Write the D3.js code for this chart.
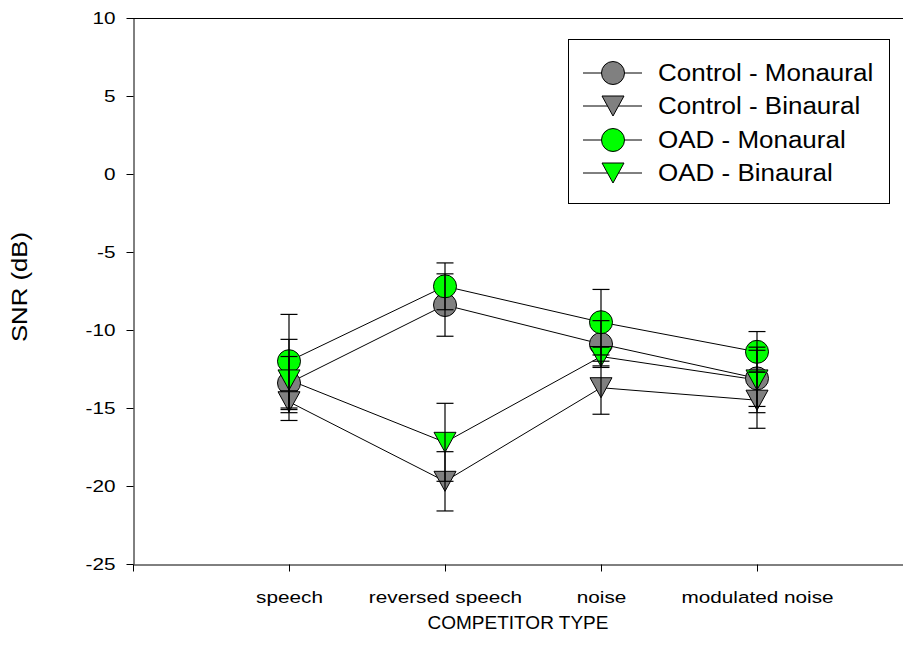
<!DOCTYPE html>
<html>
<head>
<meta charset="utf-8">
<script src="https://cdn.jsdelivr.net/npm/d3@7"></script>
<style>
  html, body { margin: 0; padding: 0; background: #fff; }
  svg { display: block; font-family: "Liberation Sans", Arial, sans-serif; }
</style>
</head>
<body>
<svg id="chart" width="903" height="654"></svg>
<script>
// Competitor types along the x axis
const categories = ["speech", "reversed speech", "noise", "modulated noise"];
const yTicks = [-25, -20, -15, -10, -5, 0, 5, 10];

// Mean SNR (dB) and error per competitor type
const controlMonaural    = [-13.4, -8.4, -10.9, -13.1];
const controlMonauralErr = [1.7, 2.0, 1.5, 1.8];
const controlBinaural    = [-14.6, -19.7, -13.7, -14.5];
const controlBinauralErr = [0.7, 1.9, 1.7, 1.8];
const oadMonaural        = [-12.0, -7.2, -9.5, -11.4];
const oadMonauralErr     = [3.0, 1.5, 2.1, 1.3];
const oadBinaural        = [-13.2, -17.2, -11.7, -13.2];
const oadBinauralErr     = [2.6, 2.5, 0.6, 2.1];

const series = [
  { name: "Control - Monaural", values: controlMonaural, err: controlMonauralErr, shape: "circle",   fill: "#808080" },
  { name: "Control - Binaural", values: controlBinaural, err: controlBinauralErr, shape: "triangle", fill: "#808080" },
  { name: "OAD - Monaural",     values: oadMonaural,     err: oadMonauralErr,     shape: "circle",   fill: "#00ff00" },
  { name: "OAD - Binaural",     values: oadBinaural,     err: oadBinauralErr,     shape: "triangle", fill: "#00ff00" }
];

const svg = d3.select("#chart");
const plotLeft = 133, plotRight = 913, plotTop = 18, plotBottom = 564;
const FONT = "Liberation Sans, Arial, sans-serif";
const STRETCH = 1.22; // tick text is set slightly wide along its baseline

const x = d3.scaleLinear().domain([0, categories.length + 1]).range([plotLeft, plotRight]);
const y = d3.scaleLinear().domain([-25, 10]).range([plotBottom, plotTop]);

// Frame (top and right edges)
svg.append("path")
  .attr("d", `M${plotLeft},${plotTop + 0.5}H${plotRight}V${plotBottom}`)
  .attr("fill", "none").attr("stroke", "#000").attr("stroke-width", 1);

// Widen a text element along its baseline, keeping its anchor point fixed
function widen(sel, k) {
  sel.each(function () {
    const t = d3.select(this);
    const tx = +t.attr("x") || 0;
    t.attr("x", tx / k).attr("transform", `scale(${k},1)`);
  });
}

// Y axis
const yAxis = svg.append("g")
  .attr("transform", `translate(${plotLeft + 0.5},0)`)
  .call(d3.axisLeft(y).tickValues(yTicks).tickFormat(d => String(d))
    .tickSize(7).tickSizeOuter(0).tickPadding(11));
yAxis.selectAll("text").attr("font-size", 17).attr("fill", "#000").attr("font-family", FONT)
  .call(widen, STRETCH);
yAxis.selectAll("line, path").attr("stroke", "#000");

// X axis
const xAxis = svg.append("g")
  .attr("transform", `translate(0,${plotBottom + 0.5})`)
  .call(d3.axisBottom(x)
    .tickValues(d3.range(0, categories.length + 1))
    .tickFormat(i => i === 0 ? "" : categories[i - 1])
    .tickSize(7).tickSizeOuter(0).tickPadding(19));
xAxis.selectAll("text").attr("font-size", 17).attr("fill", "#000").attr("font-family", FONT)
  .call(widen, STRETCH);
xAxis.selectAll("line, path").attr("stroke", "#000");

// Axis titles
svg.append("text")
  .attr("x", (plotLeft + plotRight) / 2 - 5).attr("y", 629)
  .attr("text-anchor", "middle").attr("font-size", 19)
  .text("COMPETITOR TYPE");
svg.append("text")
  .attr("transform", "translate(27,287) rotate(-90) scale(1.17,1)")
  .attr("text-anchor", "middle").attr("font-size", 22)
  .text("SNR (dB)");

const circleSym = d3.symbol().type(d3.symbolCircle).size(Math.PI * 11.5 * 11.5);
function triPath(cx, cy) {
  const w = 11, h = 10;
  return `M${cx - w},${cy - h}L${cx + w},${cy - h}L${cx},${cy + h}Z`;
}
function drawMarker(g, shape, cx, cy, fill) {
  if (shape === "circle") {
    g.append("path").attr("d", circleSym()).attr("transform", `translate(${cx},${cy})`)
      .attr("fill", fill).attr("stroke", "#000").attr("stroke-width", 1);
  } else {
    g.append("path").attr("d", triPath(cx, cy))
      .attr("fill", fill).attr("stroke", "#000").attr("stroke-width", 1).attr("stroke-linejoin", "miter");
  }
}

const line = d3.line().x((d, i) => x(i + 1)).y(d => y(d));

// Connecting lines
const lineLayer = svg.append("g");
series.forEach(s => {
  lineLayer.append("path").attr("d", line(s.values))
    .attr("fill", "none").attr("stroke", "#000").attr("stroke-width", 1);
});

// Markers
const markerLayer = svg.append("g");
series.forEach(s => {
  s.values.forEach((v, i) => drawMarker(markerLayer, s.shape, x(i + 1), y(v), s.fill));
});

// Error bars on top of markers
const errLayer = svg.append("g").attr("stroke", "#000").attr("stroke-width", 1.2);
const cap = 8.5;
series.forEach(s => {
  s.values.forEach((v, i) => {
    const cx = x(i + 1), y1 = y(v + s.err[i]), y2 = y(v - s.err[i]);
    errLayer.append("line").attr("x1", cx).attr("x2", cx).attr("y1", y1).attr("y2", y2);
    errLayer.append("line").attr("x1", cx - cap).attr("x2", cx + cap).attr("y1", y1).attr("y2", y1);
    errLayer.append("line").attr("x1", cx - cap).attr("x2", cx + cap).attr("y1", y2).attr("y2", y2);
  });
});

// Legend
const legend = svg.append("g");
legend.append("rect").attr("x", 568.5).attr("y", 39.5).attr("width", 321).attr("height", 164)
  .attr("fill", "#fff").attr("stroke", "#000").attr("stroke-width", 1);
const rowY = [73, 106, 140, 173];
series.forEach((s, i) => {
  const ly = rowY[i];
  legend.append("line").attr("x1", 583).attr("x2", 642).attr("y1", ly).attr("y2", ly)
    .attr("stroke", "#000").attr("stroke-width", 1);
  drawMarker(legend, s.shape, 613, ly, s.fill);
  legend.append("text")
    .attr("transform", `translate(658,${ly + 8}) scale(1.13,1)`)
    .attr("font-size", 23).text(s.name);
});
</script>
</body>
</html>
